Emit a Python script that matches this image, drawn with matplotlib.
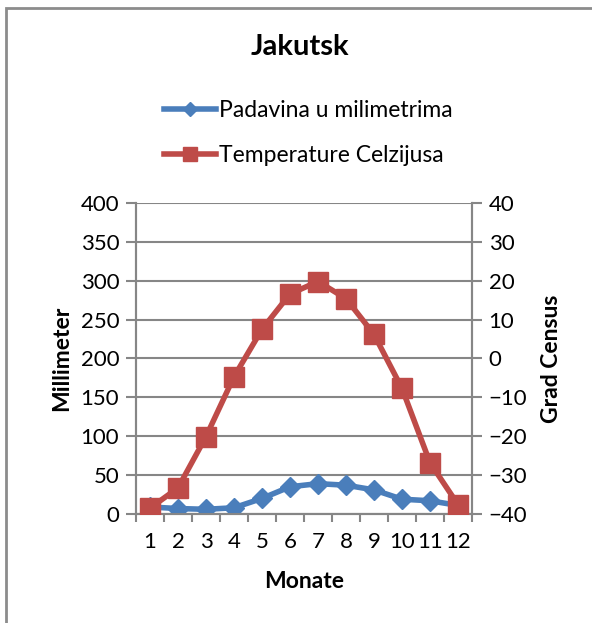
import matplotlib.pyplot as plt
from matplotlib.patches import Rectangle

plt.rcParams['font.family'] = ['Lato', 'DejaVu Sans']

# data
months = [1, 2, 3, 4, 5, 6, 7, 8, 9, 10, 11, 12]
precip = [9, 7, 6, 8, 20, 35, 39, 37, 31, 19, 17, 11]
temp = [-38.5, -33.3, -20.1, -4.7, 7.5, 16.6, 19.8, 15.4, 6.2, -7.7, -26.8, -37.6]

blue = '#4a7ebb'
red = '#be4b48'
grid = '#868686'

fig = plt.figure(figsize=(5.92, 6.23), dpi=100)
ax = fig.add_axes([0.2297, 0.175, 0.5676, 0.4992])
ax2 = ax.twinx()

# outer frame (only top and left edges visible)
fig.add_artist(Rectangle((6 / 592, -0.1), 1.2, 1 - 8 / 623 + 0.1,
                         transform=fig.transFigure, fill=False,
                         edgecolor='#8c8c8c', linewidth=2))

l1, = ax.plot(months, precip, color=blue, linewidth=4, marker='D',
              markersize=10, label='Padavina u milimetrima', zorder=3)
l2, = ax2.plot(months, temp, color=red, linewidth=4, marker='s',
               markersize=14, label='Temperature Celzijusa', zorder=3)

ax.set_xlim(0.5, 12.5)
ax.set_ylim(0, 400)
ax2.set_ylim(-40, 40)
ax.set_yticks(range(0, 401, 50))
ax2.set_yticks(range(-40, 41, 10))
ax.set_xticks(months)
ax.set_xticks([m + 0.5 for m in range(0, 13)], minor=True)
ax.tick_params(axis='x', which='major', length=0, pad=13, labelsize=16)
ax.tick_params(axis='x', which='minor', length=6, color=grid, width=1.5)
ax.tick_params(axis='y', length=7, color=grid, width=1.5, labelsize=16, pad=5)
ax2.tick_params(axis='y', length=7, color=grid, width=1.5, labelsize=16, pad=5)

ax.yaxis.grid(True, color=grid, linewidth=1.5)
ax.set_axisbelow(True)
for a in (ax, ax2):
    for s in a.spines.values():
        s.set_color(grid)
        s.set_linewidth(1.5)
    a.spines['top'].set_visible(False)

ax.set_xlabel('Monate', fontsize=16.5, fontweight='bold', labelpad=14)
ax.set_ylabel('Millimeter', fontsize=16.5, fontweight='bold', labelpad=6)
ax2.set_ylabel('Grad Census', fontsize=16.5, fontweight='bold', labelpad=10)

fig.text(0.507, 0.9246, 'Jakutsk', ha='center', va='center', fontsize=21,
         fontweight='bold')
fig.legend(handles=[l1, l2], loc='center', bbox_to_anchor=(0.52, 0.786),
           frameon=False, fontsize=16.5, handlelength=2.3, handletextpad=0.1,
           labelspacing=1.05, markerscale=0.75)

fig.savefig('out.png', dpi=100, facecolor='white')
